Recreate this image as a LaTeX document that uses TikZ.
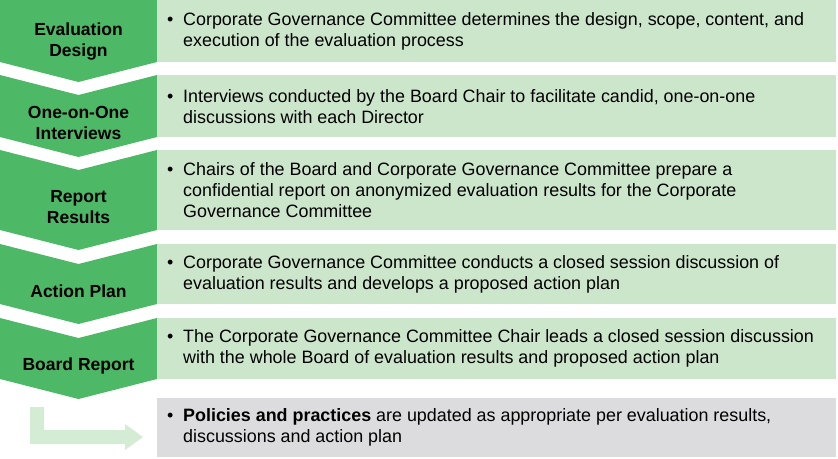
\documentclass[tikz,border=0pt]{standalone}
\usepackage{fontspec}
\setmainfont{Liberation Sans}
\usetikzlibrary{positioning}
\definecolor{stagegreen}{HTML}{4DB966}
\definecolor{panelgreen}{HTML}{CCE6CB}
\definecolor{panelgray}{HTML}{DCDCDE}
\definecolor{arrowgreen}{HTML}{D4ECD3}

\begin{document}
\begin{tikzpicture}[x=1pt, y=-1pt,
            every node/.style={inner sep=0pt, font=\fontsize{17.9}{21}\selectfont},
            stage/.style={align=center, font=\fontsize{17.5}{21}\selectfont\bfseries},
            panel/.style={fill=panelgreen, anchor=north west, inner xsep=10pt,
                minimum width=679pt, align=left}]
            \useasboundingbox (0,0) rectangle (838,458);
            % chevrons with their description panels
            \foreach \ytop/\ybot/\notch/\ly/\nm/\stagetxt/\desc in {
                0/62/0/41.5/design/{Evaluation\\Design}/{Corporate Governance Committee determines the design, scope, content, and\\execution of the evaluation process},
                75/137/20/122.5/interviews/{One-on-One\\Interviews}/{Interviews conducted by the Board Chair to facilitate candid, one-on-one\\discussions with each Director},
                150/230/20/207/results/{Report\\Results}/{Chairs of the Board and Corporate Governance Committee prepare a\\confidential report on anonymized evaluation results for the Corporate\\Governance Committee},
                244/304/20/291/plan/{Action Plan}/{Corporate Governance Committee conducts a closed session discussion of\\evaluation results and develops a proposed action plan},
                318/379/20/366/board/{Board Report}/{The Corporate Governance Committee Chair leads a closed session discussion\\with the whole Board of evaluation results and proposed action plan}}{
                \fill[stagegreen] (0,\ytop) -- (78.5,\ytop+\notch) -- (157,\ytop) -- (157,\ybot)
                    -- (78.5,\ybot+20) -- (0,\ybot) -- cycle;
                \node[stage] (\nm) at (78.5,\ly) {\stagetxt};
                \node[panel, minimum height=\ybot-\ytop] (\nm-text) at (157,\ytop)
                    {\makebox[16pt][l]{\textbullet}\parbox[t]{643pt}{\desc}};
            }
            \node[panel, fill=panelgray, minimum height=59] (update-text) at (157,398)
                {\makebox[16pt][l]{\textbullet}\parbox[t]{643pt}{\textbf{Policies and practices} are updated as appropriate per evaluation results,\\discussions and action plan}};
            % bent arrow towards the last panel
            \fill[arrowgreen] (30,407) -- (44,407) -- (44,430) -- (125,430) -- (125,424)
                -- (143,437) -- (125,450) -- (125,444) -- (30,444) -- cycle;
        \end{tikzpicture}
\end{document}
